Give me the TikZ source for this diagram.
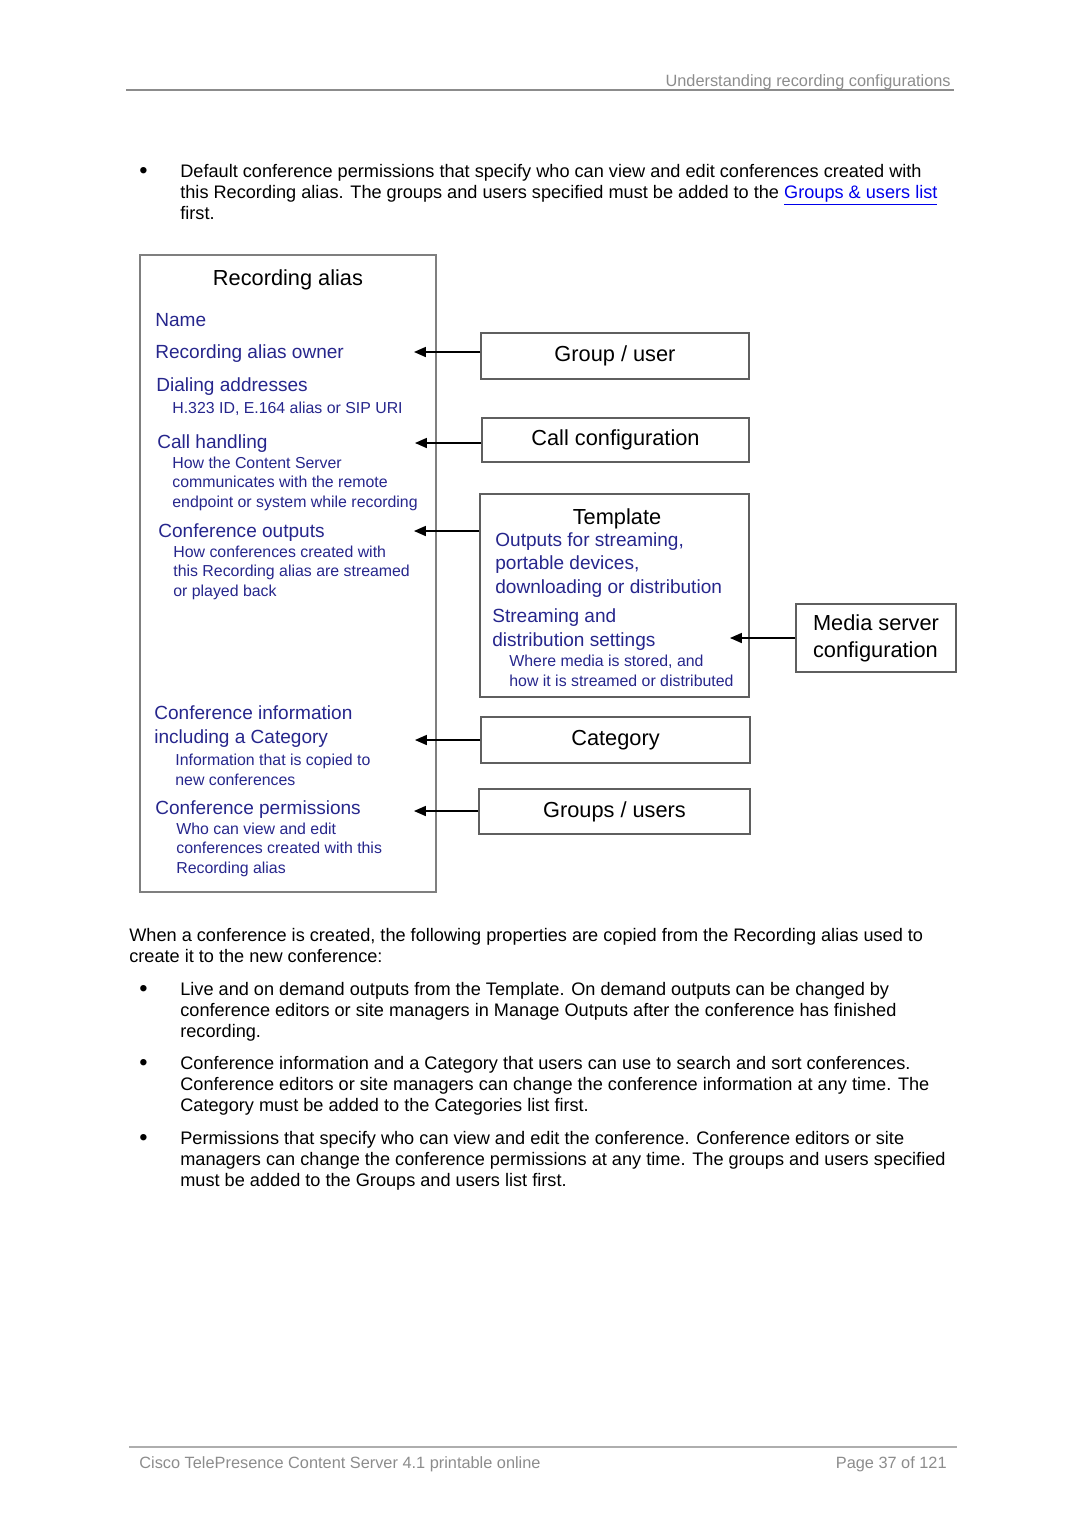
\documentclass[tikz,border=0pt]{standalone}
\usepackage{fontspec}
\setmainfont{Liberation Sans}
\usetikzlibrary{positioning,arrows.meta}
\definecolor{aliasblue}{RGB}{38,38,140}
\definecolor{linkblue}{RGB}{0,0,235}
\definecolor{pagegray}{RGB}{140,140,140}
\definecolor{boxgray}{RGB}{95,95,95}

% multi-line nodes sit on the baseline of their last line
\tikzset{
  pagetext/.style={inner sep=0pt, anchor=base west, align=left,
    font=\fontsize{10}{11.57}\selectfont},
  bulletmark/.style={inner sep=0pt, anchor=base west,
    font=\fontsize{13}{14}\selectfont},
  headtext/.style={inner sep=0pt, anchor=base, text=pagegray,
    font=\fontsize{9}{11}\selectfont},
  cfgbox/.style={draw=boxgray, line width=0.8pt, inner sep=0pt,
    font=\fontsize{12}{15}\selectfont},
  fieldhead/.style={inner sep=0pt, anchor=base west, align=left, text=aliasblue,
    font=\fontsize{10.5}{13.2}\selectfont},
  fieldnote/.style={inner sep=0pt, anchor=base west, align=left, text=aliasblue,
    font=\fontsize{8.75}{10.7}\selectfont},
  feed/.style={line width=0.8pt, -{Triangle[length=6.5pt,width=5.5pt]}}
}

\begin{document}
\begin{tikzpicture}[x=0.5511pt, y=-0.5511pt]
  \useasboundingbox (0,0) rectangle (1080,1527);

  % page header and footer
  \node[headtext, anchor=base east] (head) at (951,86) {Understanding recording configurations};
  \draw[pagegray, line width=0.6pt] (126,90) -- (954,90);
  \draw[pagegray!70, line width=0.9pt] (129,1447) -- (957,1447);
  \node[headtext, anchor=base west] (foot) at (139,1468) {Cisco TelePresence Content Server 4.1 printable online};
  \node[headtext, anchor=base east] (pageno) at (947,1468) {Page 37 of 121};

  % text above the diagram
  \node[bulletmark] (bul0) at (139,178) {\textbullet};
  \node[pagetext] (para0) at (180,219) {Default conference permissions that specify who can view and edit conferences created with\\
    this Recording alias. The groups and users specified must be added to the \textcolor{linkblue}{\underline{Groups \& users list}}\\
    first.};

  % recording alias box
  \node[draw=boxgray!80, line width=0.8pt, minimum width=163.1pt, minimum height=351.1pt]
    (alias) at (288,573.5) {};
  \node[inner sep=0pt, anchor=base, font=\fontsize{12}{14}\selectfont] (aliastitle) at (288,285) {Recording alias};
  \node[fieldhead] (name) at (155,326) {Name};
  \node[fieldhead] (owner) at (155,358) {Recording alias owner};
  \node[fieldhead] (dial) at (156,391) {Dialing addresses};
  \node[fieldnote] (dialnote) at (172,413) {H.323 ID, E.164 alias or SIP URI};
  \node[fieldhead] (callh) at (157,448) {Call handling};
  \node[fieldnote] (callnote) at (172,507) {How the Content Server\\communicates with the remote\\endpoint or system while recording};
  \node[fieldhead] (outputs) at (158,537) {Conference outputs};
  \node[fieldnote] (outnote) at (173,596) {How conferences created with\\this Recording alias are streamed\\or played back};
  \node[fieldhead] (confinfo) at (154,743) {Conference information\\including a Category};
  \node[fieldnote] (infonote) at (175,785) {Information that is copied to\\new conferences};
  \node[fieldhead] (perms) at (155,814) {Conference permissions};
  \node[fieldnote] (permnote) at (176,873) {Who can view and edit\\conferences created with this\\Recording alias};

  % configuration boxes
  \node[cfgbox, minimum width=147.7pt, minimum height=25.4pt] (grpuser) at (615,356) {Group / user};
  \node[cfgbox, minimum width=147.1pt, minimum height=24.2pt] (callcfg) at (615.5,440) {Call configuration};
  \node[cfgbox, minimum width=148.2pt, minimum height=111.9pt] (template) at (614.5,595.5) {};
  \node[cfgbox, minimum width=148.2pt, minimum height=25.4pt] (category) at (615.5,740) {Category};
  \node[cfgbox, minimum width=149.3pt, minimum height=24.8pt] (grpusers) at (614.5,811.5) {Groups / users};
  \node[cfgbox, minimum width=88.2pt, minimum height=37.5pt, align=left] (media) at (876,638) {Media server\\configuration};

  % template contents
  \node[inner sep=0pt, anchor=base, font=\fontsize{12}{14}\selectfont] (tpltitle) at (617,524) {Template};
  \node[fieldhead, font=\fontsize{10.5}{12.7}\selectfont] (tplout) at (495,593) {Outputs for streaming,\\portable devices,\\downloading or distribution};
  \node[fieldhead, font=\fontsize{10.5}{12.7}\selectfont] (tplstream) at (492,646) {Streaming and\\distribution settings};
  \node[fieldnote] (tplnote) at (509,686) {Where media is stored, and\\how it is streamed or distributed};

  % arrows into the alias box
  \coordinate (ownertip) at (414,352);
  \coordinate (calltip) at (415,443);
  \coordinate (outtip) at (414,531);
  \coordinate (cattip) at (415,740);
  \coordinate (permtip) at (414,811);
  \coordinate (mediatip) at (730,638);
  \draw[feed] (grpuser.west |- ownertip) -- (ownertip);
  \draw[feed] (callcfg.west |- calltip) -- (calltip);
  \draw[feed] (template.west |- outtip) -- (outtip);
  \draw[feed] (category.west |- cattip) -- (cattip);
  \draw[feed] (grpusers.west |- permtip) -- (permtip);
  \draw[feed] (media.west |- mediatip) -- (mediatip);

  % text below the diagram
  \node[pagetext] (para1) at (129,962) {When a conference is created, the following properties are copied from the Recording alias used to\\
    create it to the new conference:};
  \node[bulletmark] (bul1) at (139,996) {\textbullet};
  \node[pagetext] (para2) at (180,1037) {Live and on demand outputs from the Template. On demand outputs can be changed by\\
    conference editors or site managers in Manage Outputs after the conference has finished\\
    recording.};
  \node[bulletmark] (bul2) at (139,1070) {\textbullet};
  \node[pagetext] (para3) at (180,1111) {Conference information and a Category that users can use to search and sort conferences.\\
    Conference editors or site managers can change the conference information at any time. The\\
    Category must be added to the Categories list first.};
  \node[bulletmark] (bul3) at (139,1145) {\textbullet};
  \node[pagetext] (para4) at (180,1186) {Permissions that specify who can view and edit the conference. Conference editors or site\\
    managers can change the conference permissions at any time. The groups and users specified\\
    must be added to the Groups and users list first.};
\end{tikzpicture}
\end{document}
